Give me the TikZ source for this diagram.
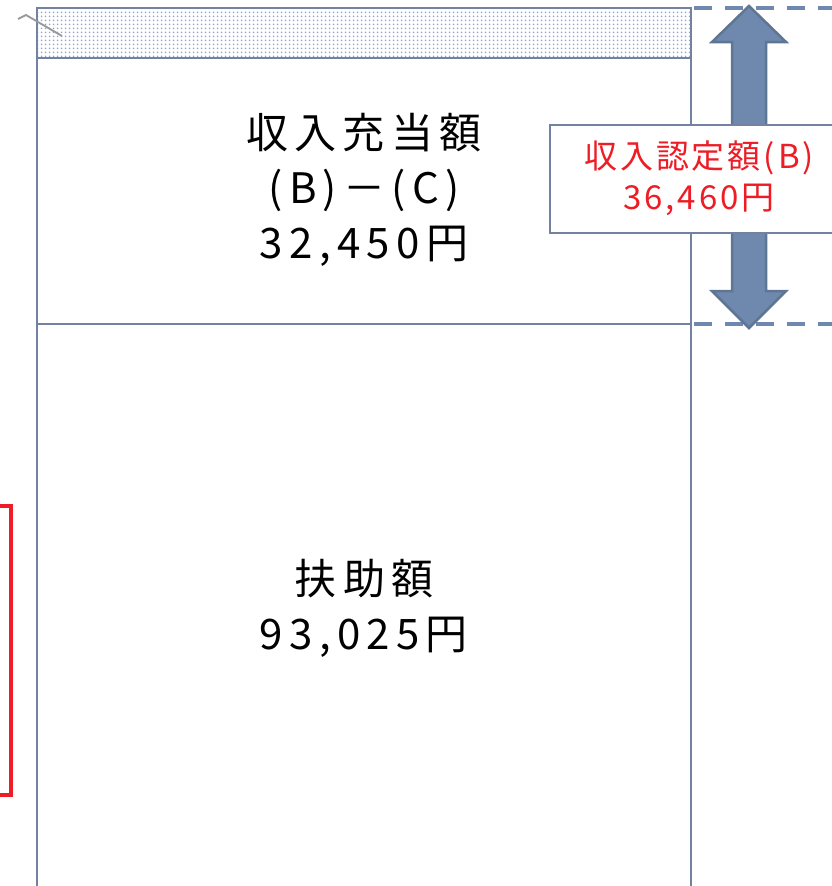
\documentclass[tikz,border=0pt]{standalone}
\usepackage{fontspec}
\usetikzlibrary{patterns.meta}
\newfontfamily\jpmain[LetterSpace=15]{Noto Sans CJK JP}
\newfontfamily\jplabel[LetterSpace=9]{Noto Sans CJK JP}
\definecolor{frameblue}{HTML}{7282A0}
\definecolor{arrowfill}{HTML}{6F89AE}
\definecolor{arrowedge}{HTML}{5F7594}
\definecolor{dashblue}{HTML}{6F88AD}
\definecolor{dotblue}{HTML}{93A6C9}
\definecolor{redtxt}{HTML}{EE1C25}
\tikzdeclarepattern{name=bluedots, type=uncolored, bounding box={(0pt,0pt) and (4pt,4pt)}, tile size={(4pt,4pt)},
  code={\fill (2pt,2pt) circle (1.1pt);}}
\tikzset{
  frame/.style={draw=frameblue, line width=2pt},
  maintxt/.style={align=center, font=\jpmain\fontsize{42}{55}\selectfont, text=black},
  labeltxt/.style={align=center, font=\jplabel\fontsize{33}{41}\selectfont, text=redtxt},
  dashline/.style={draw=dashblue, line width=3.2pt, dash pattern=on 18pt off 13pt},
}
\begin{document}
\begin{tikzpicture}[x=1pt,y=-1pt]
\useasboundingbox (0,0) rectangle (832,886);
\clip (0,0) rectangle (832,886);
% dotted band
\fill[white] (37,8) rectangle (691,58);
\fill[pattern=bluedots, pattern color=dotblue] (37,8) rectangle (691,58);
% frame
\draw[frame] (37,886) -- (37,8) -- (691,8) -- (691,886);
\draw[frame] (37,58) -- (691,58);
\draw[frame] (37,324) -- (691,324);
% grey zigzag
\draw[gray!80, line width=1.8pt] (18,19) -- (26,15) -- (62,36);
% dashed lines right
\coordinate (d1a) at (694,8); \coordinate (d1b) at (832,8);
\coordinate (d2a) at (694,324); \coordinate (d2b) at (832,324);
\draw[dashline] (d1a) -- (d1b);
\draw[dashline] (d2a) -- (d2b);
% double arrow
\filldraw[fill=arrowfill, draw=arrowedge, line width=2.5pt, line join=miter]
  (749,6) -- (786,42) -- (766,42) -- (766,291) -- (786,291) -- (749,328)
  -- (712,291) -- (732,291) -- (732,42) -- (712,42) -- cycle;
% label box
\node[draw=frameblue, fill=white, line width=2pt, minimum width=300pt, minimum height=108pt, anchor=north west, inner sep=0pt] (lab) at (549,124) {};
\node[labeltxt] (labt) at (699,178) {収入認定額(B)\\36,460円};
% main texts
\node[maintxt] (t1) at (364,190) {収入充当額\\(B)－(C)\\32,450円};
\node[maintxt] (t2) at (364,608) {扶助額\\93,025円};
% red bracket
\draw[draw=redtxt, line width=4pt] (-10,506) rectangle (11,795);
\end{tikzpicture}
\end{document}
